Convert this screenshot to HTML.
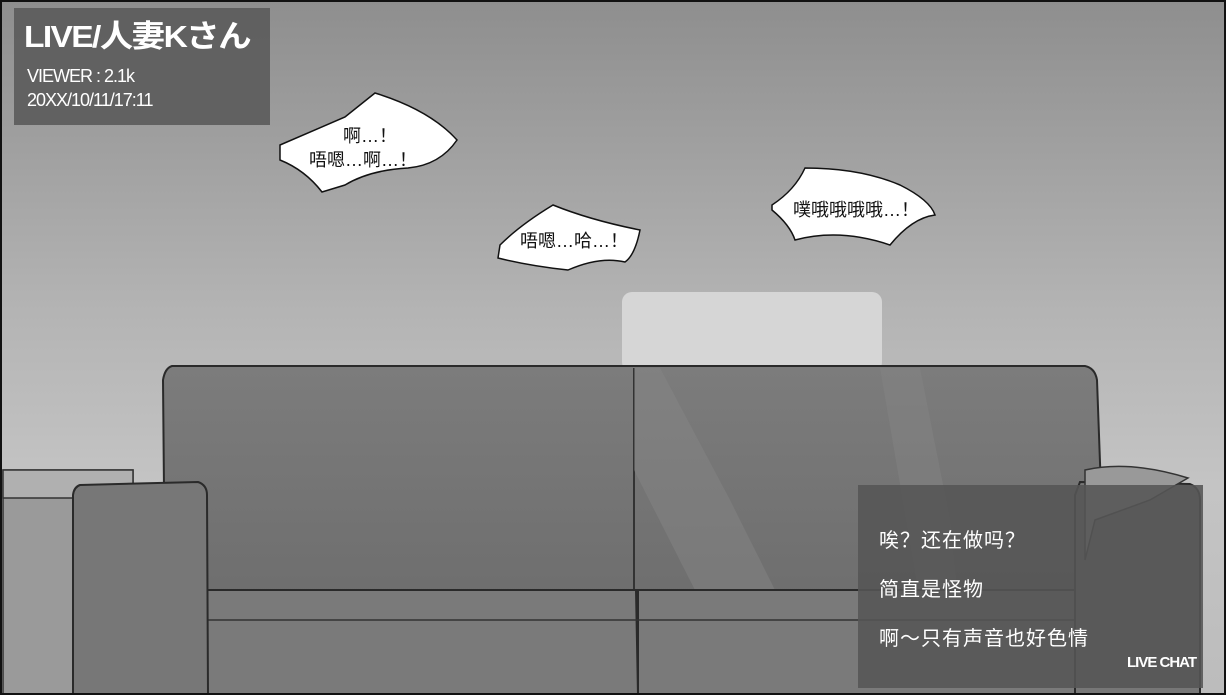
<!DOCTYPE html>
<html><head><meta charset="utf-8"><style>
body{margin:0;width:1226px;height:695px;overflow:hidden;font-family:"Liberation Sans","Noto Sans CJK SC",sans-serif}
svg{display:block}
</style></head><body>
<svg width="1226" height="695" viewBox="0 0 1226 695" xmlns="http://www.w3.org/2000/svg">
<defs>
<linearGradient id="bg" x1="0" y1="0" x2="0" y2="1">
<stop offset="0" stop-color="#8e8e8e"/><stop offset="0.45" stop-color="#b4b4b4"/><stop offset="0.7" stop-color="#c4c4c4"/><stop offset="1" stop-color="#bcbcbc"/>
</linearGradient>
<linearGradient id="sofa" x1="0" y1="0" x2="0" y2="1">
<stop offset="0" stop-color="#7c7c7c"/><stop offset="1" stop-color="#6e6e6e"/>
</linearGradient>
</defs>
<rect width="1226" height="695" fill="url(#bg)"/>
<rect x="622" y="292" width="260" height="80" rx="10" fill="#d6d6d6"/>
<rect x="3" y="470" width="130" height="225" fill="#9a9a9a" stroke="#333" stroke-width="1.5"/>
<rect x="3" y="470" width="130" height="28" fill="#b0b0b0" stroke="#333" stroke-width="1.5"/>
<path d="M172 366 L1085 366 Q1095 368 1097 380 L1105 600 L165 600 L163 380 Q165 368 172 366Z" fill="url(#sofa)" stroke="#2a2a2a" stroke-width="2"/>
<line x1="634" y1="368" x2="634" y2="595" stroke="#333" stroke-width="2"/>
<path d="M634 368 L660 368 L730 500 L780 600 L700 600 L634 470Z" fill="#888" opacity="0.45"/>
<path d="M880 368 L920 368 L950 520 L958 600 L920 600Z" fill="#888" opacity="0.4"/>
<path d="M180 590 L636 590 L638 695 L173 695 L173 620Z" fill="#7a7a7a" stroke="#2a2a2a" stroke-width="2"/>
<path d="M638 590 L1100 590 L1105 695 L638 695Z" fill="#7a7a7a" stroke="#2a2a2a" stroke-width="2"/>
<line x1="175" y1="620" x2="1100" y2="620" stroke="#333" stroke-width="1.5"/>
<path d="M80 485 L198 482 Q207 485 207 495 L208 695 L73 695 L73 495 Q74 487 80 485Z" fill="#777" stroke="#2a2a2a" stroke-width="2"/>
<path d="M1080 482 L1190 484 Q1200 488 1200 500 L1200 695 L1075 695 L1075 495Z" fill="#777" stroke="#2a2a2a" stroke-width="2"/>
<path d="M1085 470 Q1130 460 1188 478 L1150 500 L1095 520 L1085 560Z" fill="#999" stroke="#333" stroke-width="1.5"/>
<rect x="14" y="8" width="256" height="117" fill="#5c5c5c" opacity="0.92"/>
<text x="24" y="47" font-size="31" font-weight="bold" fill="#fff" letter-spacing="-1.5" textLength="226" lengthAdjust="spacingAndGlyphs">LIVE/人妻Kさん</text>
<text x="27" y="82" font-size="18" fill="#fff" letter-spacing="-1">VIEWER : 2.1k</text>
<text x="27" y="106" font-size="18" fill="#fff" letter-spacing="-1">20XX/10/11/17:11</text>
<path d="M280 145 L345 117 L375 93 Q430 110 457 140 Q440 165 408 168 Q370 170 345 185 L322 192 Q305 170 280 160Z" fill="#fff" stroke="#111" stroke-width="1.5"/>
<text x="343" y="142" font-size="18" fill="#111">啊…！</text>
<text x="309" y="166" font-size="18" fill="#111">唔嗯…啊…！</text>
<path d="M500 245 Q520 225 553 205 Q590 220 640 230 Q635 255 625 262 Q600 256 568 270 Q530 266 498 258Z" fill="#fff" stroke="#111" stroke-width="1.5"/>
<text x="520" y="247" font-size="18" fill="#111">唔嗯…哈…！</text>
<path d="M772 205 Q795 190 805 168 Q860 168 900 185 Q930 200 935 215 Q912 218 890 245 Q840 228 795 240 Q790 225 772 210Z" fill="#fff" stroke="#111" stroke-width="1.5"/>
<text x="793" y="216" font-size="18" fill="#111">噗哦哦哦哦…！</text>
<rect x="858" y="485" width="345" height="203" fill="#555" opacity="0.88"/>
<text x="879" y="547" font-size="20" fill="#fff" letter-spacing="1">唉？还在做吗？</text>
<text x="879" y="596" font-size="20" fill="#fff" letter-spacing="1">简直是怪物</text>
<text x="879" y="645" font-size="20" fill="#fff" letter-spacing="1">啊～只有声音也好色情</text>
<text x="1127" y="667" font-size="15" font-weight="bold" fill="#fff" letter-spacing="-1">LIVE CHAT</text>
<rect x="1" y="1" width="1224" height="693" fill="none" stroke="#111" stroke-width="2"/>
</svg>
</body></html>
